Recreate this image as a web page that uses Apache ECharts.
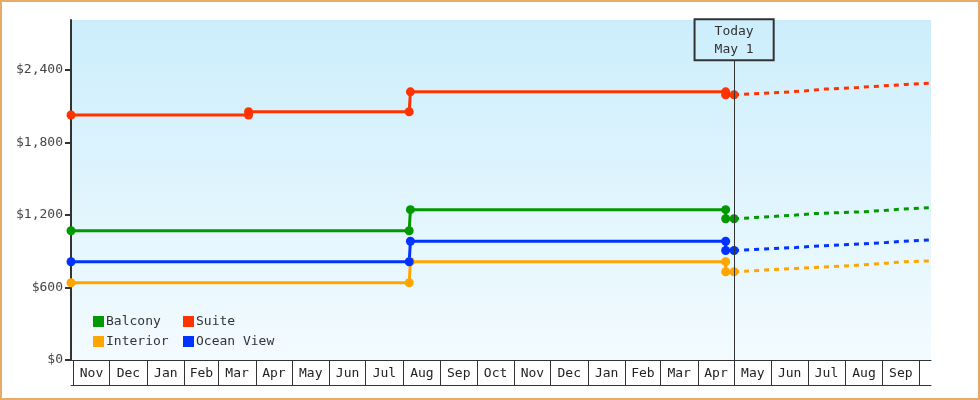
<!DOCTYPE html>
<html>
<head>
<meta charset="utf-8">
<script src="https://cdn.jsdelivr.net/npm/echarts@6/dist/echarts.min.js"></script>
<style>
  html, body { margin: 0; padding: 0; background: #fff; }
  #wrap { position: relative; width: 980px; height: 400px; }
  #chart { position: absolute; left: 0; top: 0; width: 980px; height: 400px; }
  #frame { position: absolute; left: 0; top: 0; width: 980px; height: 400px; box-sizing: border-box; border: 2px solid #E8AA68; pointer-events: none; }
</style>
</head>
<body>
<div id="wrap"><div id="chart"></div><div id="frame"></div></div>
<script>
// ---- data ----
const monthStarts = ['2022-11-01','2022-12-01','2023-01-01','2023-02-01','2023-03-01','2023-04-01','2023-05-01','2023-06-01','2023-07-01','2023-08-01','2023-09-01','2023-10-01','2023-11-01','2023-12-01','2024-01-01','2024-02-01','2024-03-01','2024-04-01','2024-05-01','2024-06-01','2024-07-01','2024-08-01','2024-09-01','2024-10-01'];
const monthLabels = ['Nov','Dec','Jan','Feb','Mar','Apr','May','Jun','Jul','Aug','Sep','Oct','Nov','Dec','Jan','Feb','Mar','Apr','May','Jun','Jul','Aug','Sep'];
const yTicks = [0, 600, 1200, 1800, 2400];
const todayDate = '2024-05-01';
const todayLabel = 'Today\nMay 1';

const balconyHist = [['2022-10-30',1070],['2023-08-06',1070],['2023-08-07',1245],['2024-04-24',1245],['2024-04-24',1169],['2024-05-01',1169]];
const interiorHist = [['2022-10-30',640],['2023-08-06',640],['2023-08-07',814],['2024-04-24',814],['2024-04-24',731],['2024-05-01',731]];
const oceanHist = [['2022-10-30',813],['2023-08-06',813],['2023-08-07',983],['2024-04-24',983],['2024-04-24',907],['2024-05-01',907]];
const suiteHist = [['2022-10-30',2028],['2023-03-26',2028],['2023-03-26',2055],['2023-08-06',2055],['2023-08-07',2220],['2024-04-24',2220],['2024-04-24',2196],['2024-05-01',2196]];

const balconyFc = [['2024-05-01',1169],['2024-06-21',1200],['2024-07-06',1212],['2024-08-17',1228],['2024-09-04',1239],['2024-09-18',1250],['2024-10-11',1262]];
const interiorFc = [['2024-05-01',731],['2024-06-21',758],['2024-07-06',766],['2024-08-17',788],['2024-09-04',802],['2024-09-18',813],['2024-10-11',821]];
const oceanFc = [['2024-05-01',907],['2024-06-21',931],['2024-07-06',942],['2024-08-17',962],['2024-09-04',973],['2024-09-18',983],['2024-10-11',995]];
const suiteFc = [['2024-05-01',2196],['2024-06-03',2212],['2024-06-30',2229],['2024-07-15',2243],['2024-08-11',2256],['2024-09-20',2281],['2024-10-11',2293]];

const xMin = '2022-10-30';
const xMax = '2024-10-11';
const yMax = 2815;
const todayTop = 2481;

// ---- helpers ----
function t(s) { const p = s.split('-'); return new Date(+p[0], +p[1] - 1, +p[2]).getTime(); }
function conv(arr) { return arr.map(d => [t(d[0]), d[1]]); }

const FONT = 'DejaVu Sans Mono';
const colors = { Balcony: '#009900', Suite: '#FF3300', Interior: '#FFA500', 'Ocean View': '#0033FF' };

const tickVals = monthStarts.map(t);
const labelVals = monthLabels.map((m, i) => Math.round((tickVals[i] + tickVals[i + 1]) / 2));
const labelMap = {};
labelVals.forEach((v, i) => { labelMap[v] = monthLabels[i]; });

function hist(name, data) {
  return {
    name, type: 'line', data: conv(data), xAxisIndex: 0,
    symbol: 'circle', symbolSize: 9, showSymbol: true,
    lineStyle: { color: colors[name], width: 3 },
    itemStyle: { color: colors[name] },
    z: 3
  };
}
function fc(name, data) {
  return {
    name, type: 'line', data: conv(data), xAxisIndex: 0,
    symbol: 'none', showSymbol: false,
    lineStyle: { color: colors[name], width: 3, type: [5, 5] },
    itemStyle: { color: colors[name] },
    z: 2
  };
}

const chart = echarts.init(document.getElementById('chart'), null, { renderer: 'canvas' });

const series = [
  hist('Balcony', balconyHist), fc('Balcony', balconyFc),
  hist('Interior', interiorHist), fc('Interior', interiorFc),
  hist('Ocean View', oceanHist), fc('Ocean View', oceanFc),
  hist('Suite', suiteHist), fc('Suite', suiteFc)
];
series[series.length - 2].markLine = {
  silent: true, symbol: 'none', animation: false,
  lineStyle: { color: '#333', width: 1, type: 'solid' },
  label: {
    show: true, position: 'end', distance: 0,
    formatter: todayLabel,
    fontFamily: FONT, fontSize: 13, color: '#333', lineHeight: 18,
    borderColor: '#333', borderWidth: 1, padding: [3, 20, 2, 20],
    backgroundColor: 'transparent'
  },
  emphasis: { disabled: true },
  data: [[{ coord: [t(todayDate), 0] }, { coord: [t(todayDate), todayTop] }]]
};

const legendCommon = {
  orient: 'vertical', itemWidth: 11, itemHeight: 11, itemGap: 7, icon: 'rect', padding: 0,
  textStyle: { fontFamily: FONT, fontSize: 13, color: '#333', lineHeight: 11, padding: [0, 0, 0, -3] },
  top: 315, selectedMode: false
};

chart.setOption({
  animation: false,
  textStyle: { fontFamily: FONT },
  grid: {
    left: 71, top: 20, width: 860, height: 340,
    show: true, borderWidth: 0,
    backgroundColor: new echarts.graphic.LinearGradient(0, 0, 0, 1, [
      { offset: 0, color: '#CCEEFC' }, { offset: 1, color: '#F3FBFF' }
    ])
  },
  legend: [
    Object.assign({}, legendCommon, { left: 93, data: ['Balcony', 'Interior'] }),
    Object.assign({}, legendCommon, { left: 183, data: ['Suite', 'Ocean View'] })
  ],
  xAxis: [
    {
      type: 'value', min: t(xMin), max: t(xMax), position: 'bottom', scale: true,
      axisLine: { show: true, onZero: false, lineStyle: { color: '#333', width: 1 } },
      axisTick: { show: true, customValues: tickVals, length: 25, lineStyle: { color: '#333', width: 1 } },
      axisLabel: {
        show: true, customValues: labelVals, margin: 7, showMinLabel: true, showMaxLabel: true,
        fontFamily: FONT, fontSize: 13, color: '#222',
        formatter: function (v) { return labelMap[Math.round(v)] || ''; }
      },
      splitLine: { show: false }, minorTick: { show: false }
    },
    {
      type: 'value', min: t(xMin), max: t(xMax), position: 'bottom', offset: 25, scale: true,
      axisLine: { show: true, onZero: false, lineStyle: { color: '#333', width: 1 } },
      axisTick: { show: false }, axisLabel: { show: false }, splitLine: { show: false }
    }
  ],
  yAxis: {
    type: 'value', min: 0, max: yMax,
    axisLine: { show: true, lineStyle: { color: '#333', width: 2 } },
    axisTick: { show: true, customValues: yTicks, length: 6, lineStyle: { color: '#333', width: 2 } },
    axisLabel: {
      show: true, customValues: yTicks, margin: 8,
      fontFamily: FONT, fontSize: 13, color: '#444',
      formatter: function (v) { return '$' + Number(v).toLocaleString('en-US'); }
    },
    splitLine: { show: false }
  },
  series: series
});
</script>
</body>
</html>
